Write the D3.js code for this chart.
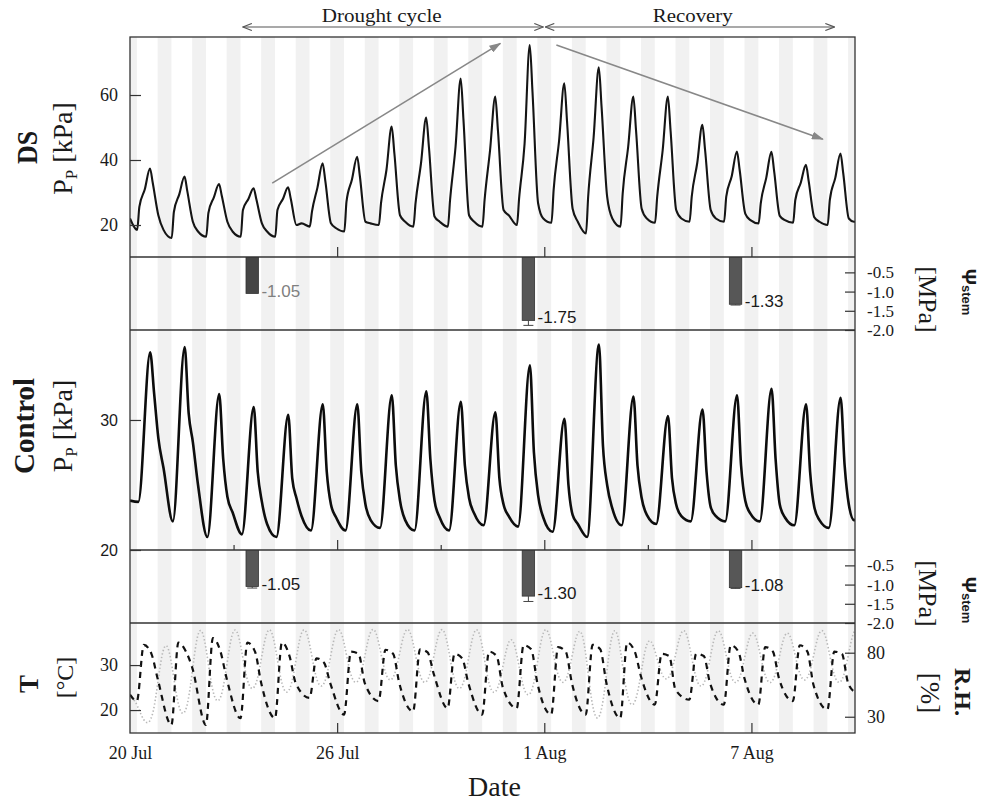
<!DOCTYPE html>
<html><head><meta charset="utf-8">
<script src="https://cdn.jsdelivr.net/npm/d3@7"></script>
<style>
body{margin:0;background:#fff;}
svg{display:block;}
</style></head><body>
<svg id="c" width="984" height="803"></svg>
<script>
// ---------------- DATA ----------------
const startDay = Date.UTC(2017, 6, 20);   // 20 Jul
const nDays = 21;                          // to 10 Aug
const majorTickDays = [0, 6, 12, 18];
const minorTickDays = [3, 9, 15];

// DS plant: P_P [kPa], key readings per day at these hours of day
const dsHours = [5.0, 6.5, 10.3, 13.9, 15.8, 19.7, 23.3];
const dsMin   = [18.5,16.0,16.4,16.4,16.4,19.5,18.0,20.0,19.5,19.5,19.5,20.0,20.7,17.4,19.5,20.7,21.0,21.0,20.5,20.7,20.0];
const dsJump  = [25.6,24.0,23.7,24.6,24.6,24.1,27.2,26.7,26.7,27.7,27.7,28.2,30.8,28.7,29.7,28.7,28.7,28.7,26.7,27.7,27.7];
const dsRise  = [31.0,29.5,28.5,28.0,28.0,31.5,34.0,37.0,39.0,44.0,43.0,45.0,46.0,47.0,44.0,43.0,39.0,35.0,34.5,33.0,34.5];
const dsPeak  = [37.4,34.9,32.6,31.3,31.6,39.0,41.0,50.3,53.1,65.1,59.5,75.4,63.6,68.5,59.5,59.5,50.8,42.6,42.5,38.5,42.0];
const dsFall  = [33.0,30.5,29.0,28.0,28.0,33.5,35.0,42.0,44.0,52.5,49.0,61.0,52.0,56.5,49.0,49.0,43.0,37.0,36.5,33.5,36.0];
const dsEve   = [23.0,21.0,21.0,20.5,20.0,20.5,21.0,23.0,22.6,23.0,24.6,26.7,25.0,28.7,25.0,24.6,24.6,23.5,22.8,22.4,22.0];
const dsNight = [18.5,18.0,18.0,18.0,20.5,19.0,20.5,21.0,21.0,21.0,23.0,22.0,21.0,22.0,22.0,22.0,22.0,21.5,21.5,21.0,21.0];
const dsStartEnd = [22.0, 21.0];

// Control plant: P_P [kPa]
const ctHours = [5.8, 14.0, 16.8, 19.7, 23.3];
const ctMin  = [23.7,22.2,21.0,21.2,21.0,21.5,21.5,21.7,21.5,21.5,21.9,21.8,21.4,21.0,21.9,22.0,22.2,22.2,22.2,21.9,21.7];
const ctPeak = [35.2,35.6,32.0,31.0,30.4,31.2,31.2,31.9,32.2,31.4,30.6,34.2,30.1,35.8,31.8,30.3,30.8,31.9,32.4,31.2,31.7];
const ctF1   = [32.0,30.5,27.0,26.0,25.5,26.0,26.0,26.5,27.0,26.5,25.5,27.5,25.0,28.0,26.5,25.5,26.0,26.5,27.0,26.0,26.5];
const ctF2   = [28.6,28.3,24.1,23.7,24.0,23.5,23.5,23.8,23.8,24.0,23.5,24.2,22.7,25.0,24.0,23.5,23.3,23.8,23.5,23.3,23.5];
const ctF3   = [26.3,25.0,22.9,22.0,22.6,22.5,22.3,22.3,22.5,22.8,22.6,22.5,22.0,23.2,22.7,22.6,22.6,22.8,22.5,22.3,22.3];
const ctStartEnd = [23.8, 22.3];

// Air temperature [°C]
const tHours = [4.8, 9.6, 14.9, 19.2];
const tMin  = [22.0,16.7,16.7,18.2,18.2,22.7,19.0,22.0,19.7,20.4,19.0,20.4,19.0,19.0,18.2,21.2,22.3,21.2,21.2,22.0,20.1];
const tTop  = [34.5,35.0,36.0,35.0,35.0,31.5,33.0,33.4,33.5,32.5,33.0,34.4,34.0,34.5,35.0,32.5,32.5,34.4,34.0,34.4,33.0];
const tPlat = [32.5,33.0,33.0,33.0,32.0,30.5,32.5,32.5,32.8,31.5,32.0,33.5,33.0,33.5,33.0,32.0,32.0,33.0,33.0,33.0,32.5];
const tFall = [27.0,29.5,27.0,26.0,26.0,26.0,26.0,26.0,28.0,26.0,25.0,26.0,26.0,26.0,27.5,24.5,26.0,27.0,27.0,25.5,26.0];
const tStartEnd = [23.4, 24.0];

// Relative humidity [%]
const rhHighHours = [-1.7, 3.6];
const rhLowHours  = [9.6, 16.3];
const rhMax = [45,88,100,100,100,100,100,100,100,100,100,92,100,99,100,91,99,99,97,97,99];
const rhMin = [24,30,40,50,47,52,55,57,55,50,47,45,55,26,37,58,52,55,55,57,55];
const rhEnd = 100;

// Stem water potential [MPa]
const stemDays   = [3.54, 11.54, 17.54];
const dsStem     = [-1.05, -1.75, -1.33];
const dsStemErr  = [0.0, 0.13, 0.02];
const ctStem     = [-1.05, -1.30, -1.08];
const ctStemErr  = [0.04, 0.14, 0.02];
const stemTicks  = [-0.5, -1.0, -1.5, -2.0];

// Axis ticks
const dsTicks = [20, 40, 60];
const ctTicks = [20, 30];
const tTicks  = [20, 30];
const rhTicks = [30, 80];

// Annotations (day offsets, kPa)
const phases = [
  {label: "Drought cycle", from: 3.24, to: 12.0, labelDay: 7.29},
  {label: "Recovery",      from: 12.0, to: 20.43, labelDay: 16.3}
];
const trends = [
  {d0: 4.12, v0: 32.9, d1: 10.73, v1: 75.9},
  {d0: 12.35, v0: 75.4, d1: 20.07, v1: 46.4}
];

// ---------------- LAYOUT ----------------
const SERIF = "'Liberation Serif','Times New Roman',serif";
const SANS  = "'Liberation Sans',Arial,sans-serif";
const X0 = 130, X1 = 855;
const P = {ds:[37,257], b1:[257,330], ct:[330,550], b2:[550,623], tr:[623,733]};
const FRAME = "#333";

const at = d => new Date(startDay + d * 864e5);
const x = d3.scaleUtc().domain([at(0), at(nDays)]).range([X0, X1]);
const yDS = d3.scaleLinear().domain([10.15, 77.85]).range([P.ds[1], P.ds[0]]);
const yB1 = d3.scaleLinear().domain([-0.1, -2.0]).range([P.b1[0], P.b1[1]]);
const yCT = d3.scaleLinear().domain([20, 36.92]).range([P.ct[1], P.ct[0]]);
const yB2 = d3.scaleLinear().domain([-0.1, -2.0]).range([P.b2[0], P.b2[1]]);
const yT  = d3.scaleLinear().domain([14.9, 39.35]).range([P.tr[1], P.tr[0]]);
const yRH = d3.scaleLinear().domain([17.3, 103.2]).range([P.tr[1], P.tr[0]]);

const svg = d3.select("#c");
const defs = svg.append("defs");
function clip(id, y0, y1){
  defs.append("clipPath").attr("id", id).append("rect")
    .attr("x", X0).attr("y", y0).attr("width", X1 - X0).attr("height", y1 - y0);
}
clip("cAll", P.ds[0], P.tr[1]);
clip("cDS", P.ds[0], P.ds[1]);
clip("cB1", P.b1[0], P.b1[1]);
clip("cCT", P.ct[0], P.ct[1]);
clip("cB2", P.b2[0], P.b2[1]);
clip("cTR", P.tr[0], P.tr[1]);

defs.append("marker").attr("id","tri").attr("viewBox","0 0 12 8").attr("refX",11).attr("refY",4)
  .attr("markerWidth",12).attr("markerHeight",8).attr("markerUnits","userSpaceOnUse").attr("orient","auto")
  .append("path").attr("d","M0,0 L12,4 L0,8 Z").attr("fill","#888");
defs.append("marker").attr("id","chev").attr("viewBox","0 0 10 8").attr("refX",9.5).attr("refY",4)
  .attr("markerWidth",10).attr("markerHeight",8).attr("markerUnits","userSpaceOnUse").attr("orient","auto-start-reverse")
  .append("path").attr("d","M0.5,0.5 L9.5,4 L0.5,7.5").attr("fill","none").attr("stroke","#555").attr("stroke-width",1.2);

// night stripes
const nightHalf = 0.2;
svg.append("g").attr("clip-path","url(#cAll)")
  .selectAll("rect").data(d3.range(0, nDays + 1)).join("rect")
  .attr("x", d => x(at(d - nightHalf)))
  .attr("width", d => x(at(d + nightHalf)) - x(at(d - nightHalf)))
  .attr("y", P.ds[0]).attr("height", P.tr[1] - P.ds[0])
  .attr("fill", "#f1f1f1");

// build series from daily readings
function build(hours, cols, startEnd){
  const pts = [{t: 0, v: startEnd[0]}];
  for (let d = 0; d < cols[0].length; d++)
    hours.forEach((h, i) => pts.push({t: d + h / 24, v: cols[i][d]}));
  pts.push({t: nDays, v: startEnd[1]});
  return pts.filter(p => p.t >= 0).sort((a, b) => a.t - b.t);
}
const dsSeries = build(dsHours, [dsMin, dsJump, dsRise, dsPeak, dsFall, dsEve, dsNight], dsStartEnd);
const ctSeries = build(ctHours, [ctMin, ctPeak, ctF1, ctF2, ctF3], ctStartEnd);
const tSeries  = build(tHours, [tMin, tTop, tPlat, tFall], tStartEnd);
const rhSeries = [];
for (let d = 0; d < rhMax.length; d++){
  rhHighHours.forEach(h => rhSeries.push({t: d + h / 24, v: rhMax[d]}));
  rhLowHours.forEach(h => rhSeries.push({t: d + h / 24, v: rhMin[d]}));
}
rhHighHours.forEach(h => rhSeries.push({t: nDays + h / 24, v: rhEnd}));

function drawLine(clipId, data, yS, stroke, width, dash, curve){
  svg.append("path").attr("clip-path", `url(#${clipId})`)
    .datum(data)
    .attr("d", d3.line().x(p => x(at(p.t))).y(p => yS(p.v)).curve(curve || d3.curveMonotoneX))
    .attr("fill","none").attr("stroke", stroke).attr("stroke-width", width)
    .attr("stroke-linejoin","round")
    .attr("stroke-dasharray", dash || null);
}
drawLine("cDS", dsSeries, yDS, "#151515", 2.1);
drawLine("cCT", ctSeries, yCT, "#0d0d0d", 2.6);
drawLine("cTR", rhSeries, yRH, "#b8b8b8", 1.6, "1.4,2.2", d3.curveBasis);
drawLine("cTR", tSeries, yT, "#111", 2.2, "6,5");

// stem water potential bars
function bars(clipId, yS, vals, errs, labelColors){
  const g = svg.append("g").attr("clip-path", `url(#${clipId})`);
  const hw = 0.18;
  vals.forEach((v, i) => {
    const d = stemDays[i];
    const xl = x(at(d - hw)), xr = x(at(d + hw)), xc = x(at(d));
    g.append("rect").attr("x", xl).attr("width", xr - xl)
      .attr("y", yS(0)).attr("height", yS(v) - yS(0))
      .attr("fill", i === 0 && labelColors[0] ? "#454545" : "#575757").attr("stroke","#333").attr("stroke-width",0.8);
    if (errs[i] > 0){
      g.append("line").attr("x1", xc).attr("x2", xc).attr("y1", yS(v)).attr("y2", yS(v - errs[i])).attr("stroke","#444").attr("stroke-width",1);
      g.append("line").attr("x1", xc - 5).attr("x2", xc + 5).attr("y1", yS(v - errs[i])).attr("y2", yS(v - errs[i])).attr("stroke","#444").attr("stroke-width",1);
    }
    svg.append("text").attr("x", xr + 3).attr("y", yS(v) + 3)
      .attr("font-family", SANS).attr("font-size", 17)
      .attr("fill", labelColors[i] || "#1a1a1a").text(v.toFixed(2));
  });
}
bars("cB1", yB1, dsStem, dsStemErr, ["#808080"]);
bars("cB2", yB2, ctStem, ctStemErr, []);

// frames
const fr = svg.append("g").attr("stroke", FRAME).attr("stroke-width", 1.3).attr("fill","none");
fr.append("rect").attr("x", X0).attr("y", P.ds[0]).attr("width", X1 - X0).attr("height", P.tr[1] - P.ds[0]);
[P.ds[1], P.b1[1], P.ct[1], P.b2[1]].forEach(yy =>
  fr.append("line").attr("x1", X0).attr("x2", X1).attr("y1", yy).attr("y2", yy));

// x ticks inside panels
function xTicks(yb, days, len){
  const g = svg.append("g").attr("transform", `translate(0,${yb})`)
    .call(d3.axisTop(x).tickValues(days.map(at)).tickSize(len).tickFormat(""));
  g.select(".domain").remove();
  g.selectAll("line").attr("stroke", FRAME).attr("stroke-width", 1.2);
}
xTicks(P.ds[1], majorTickDays.slice(1), 10);
xTicks(P.ct[1], majorTickDays.slice(1), 10);
xTicks(P.ct[1], minorTickDays, 5);
xTicks(P.tr[1], majorTickDays.slice(1), 10);

// x labels
const xl = svg.append("g").attr("transform", `translate(0,${P.tr[1]})`)
  .call(d3.axisBottom(x).tickValues(majorTickDays.map(at)).tickSize(0).tickPadding(13.2)
    .tickFormat(d3.utcFormat("%-d %b")));
xl.select(".domain").remove();
xl.selectAll("text").attr("font-family", SERIF).attr("font-size", 18).attr("fill","#1a1a1a");

// y axes
function leftAxis(scale, ticks, family, size){
  const g = svg.append("g").attr("transform", `translate(${X0},0)`)
    .call(d3.axisLeft(scale).tickValues(ticks).tickSizeInner(-11).tickSizeOuter(0).tickPadding(12).tickFormat(d3.format("d")));
  g.select(".domain").remove();
  g.selectAll("line").attr("stroke", FRAME).attr("stroke-width", 1.2);
  g.selectAll("text").attr("font-family", family).attr("font-size", size).attr("fill","#1a1a1a");
}
function rightAxis(scale, ticks, fmt, size){
  const g = svg.append("g").attr("transform", `translate(${X1},0)`)
    .call(d3.axisRight(scale).tickValues(ticks).tickSizeInner(-10).tickSizeOuter(0).tickPadding(12).tickFormat(fmt));
  g.select(".domain").remove();
  g.selectAll("line").attr("stroke", FRAME).attr("stroke-width", 1.2);
  g.selectAll("text").attr("font-family", SERIF).attr("font-size", size).attr("fill","#1a1a1a");
}
leftAxis(yDS, dsTicks, SERIF, 18);
leftAxis(yCT, ctTicks, SANS, 16);
leftAxis(yT, tTicks, SERIF, 18);
rightAxis(yB1, stemTicks, d => d.toFixed(1), 17);
rightAxis(yB2, stemTicks, d => d.toFixed(1), 17);
rightAxis(yRH, rhTicks, d3.format("d"), 18);

// annotations: phase arrows
const annY = 27;
phases.forEach(p => {
  svg.append("line").attr("x1", x(at(p.from)) + 1).attr("x2", x(at(p.to)) - 1)
    .attr("y1", annY).attr("y2", annY).attr("stroke","#555").attr("stroke-width",1.2)
    .attr("marker-start","url(#chev)").attr("marker-end","url(#chev)");
  svg.append("text").attr("x", x(at(p.labelDay))).attr("y", 21.5)
    .attr("text-anchor","middle").attr("font-family", SERIF).attr("font-size", 18)
    .attr("textLength", p.label === "Recovery" ? 80 : 120).attr("lengthAdjust","spacingAndGlyphs")
    .attr("fill","#1a1a1a").text(p.label);
});
trends.forEach(t => {
  svg.append("line").attr("x1", x(at(t.d0))).attr("y1", yDS(t.v0))
    .attr("x2", x(at(t.d1))).attr("y2", yDS(t.v1))
    .attr("stroke","#888").attr("stroke-width",1.6).attr("marker-end","url(#tri)");
});

// axis titles
function vtext(xp, yp, rot, parts){
  const t = svg.append("text").attr("transform", `translate(${xp},${yp}) rotate(${rot})`)
    .attr("text-anchor","middle").attr("fill","#1a1a1a");
  parts.forEach(pt => {
    const s = t.append("tspan").attr("font-family", pt.f || SERIF).attr("font-size", pt.s)
      .attr("font-weight", pt.w || "normal").text(pt.t);
    if (pt.dy) s.attr("dy", pt.dy);
  });
  return t;
}
vtext(37, 147.5, -90, [{t:"DS", s:30, w:"bold"}]).attr("textLength", 33).attr("lengthAdjust","spacingAndGlyphs");
vtext(72, 148.5, -90, [{t:"P", s:28}, {t:"P", s:17, dy:5}, {t:" [kPa]", s:28, dy:-5}]);
vtext(33.5, 426, -90, [{t:"Control", s:29, w:"bold"}]);
vtext(72, 426, -90, [{t:"P", s:28}, {t:"P", s:17, dy:5}, {t:" [kPa]", s:28, dy:-5}]);
vtext(38, 684, -90, [{t:"T", s:27, w:"bold"}]);
vtext(73, 677.5, -90, [{t:"[°C]", s:24}]);

vtext(919, 299.5, 90, [{t:"[MPa]", s:26}]);
vtext(919, 593.5, 90, [{t:"[MPa]", s:26}]);
vtext(962, 292, 90, [{t:"Ψ", s:20, w:"bold", f:SANS}, {t:"stem", s:13, w:"bold", f:SANS}]);
vtext(962, 600, 90, [{t:"Ψ", s:20, w:"bold", f:SANS}, {t:"stem", s:13, w:"bold", f:SANS}]);
vtext(955, 692, 90, [{t:"R.H.", s:24, w:"bold"}]);
vtext(921, 693, 90, [{t:"[%]", s:27}]);

svg.append("text").attr("x", (X0 + X1) / 2 + 2).attr("y", 796).attr("text-anchor","middle")
  .attr("font-family", SERIF).attr("font-size", 28).attr("fill","#1a1a1a").text("Date");
</script></body></html>
